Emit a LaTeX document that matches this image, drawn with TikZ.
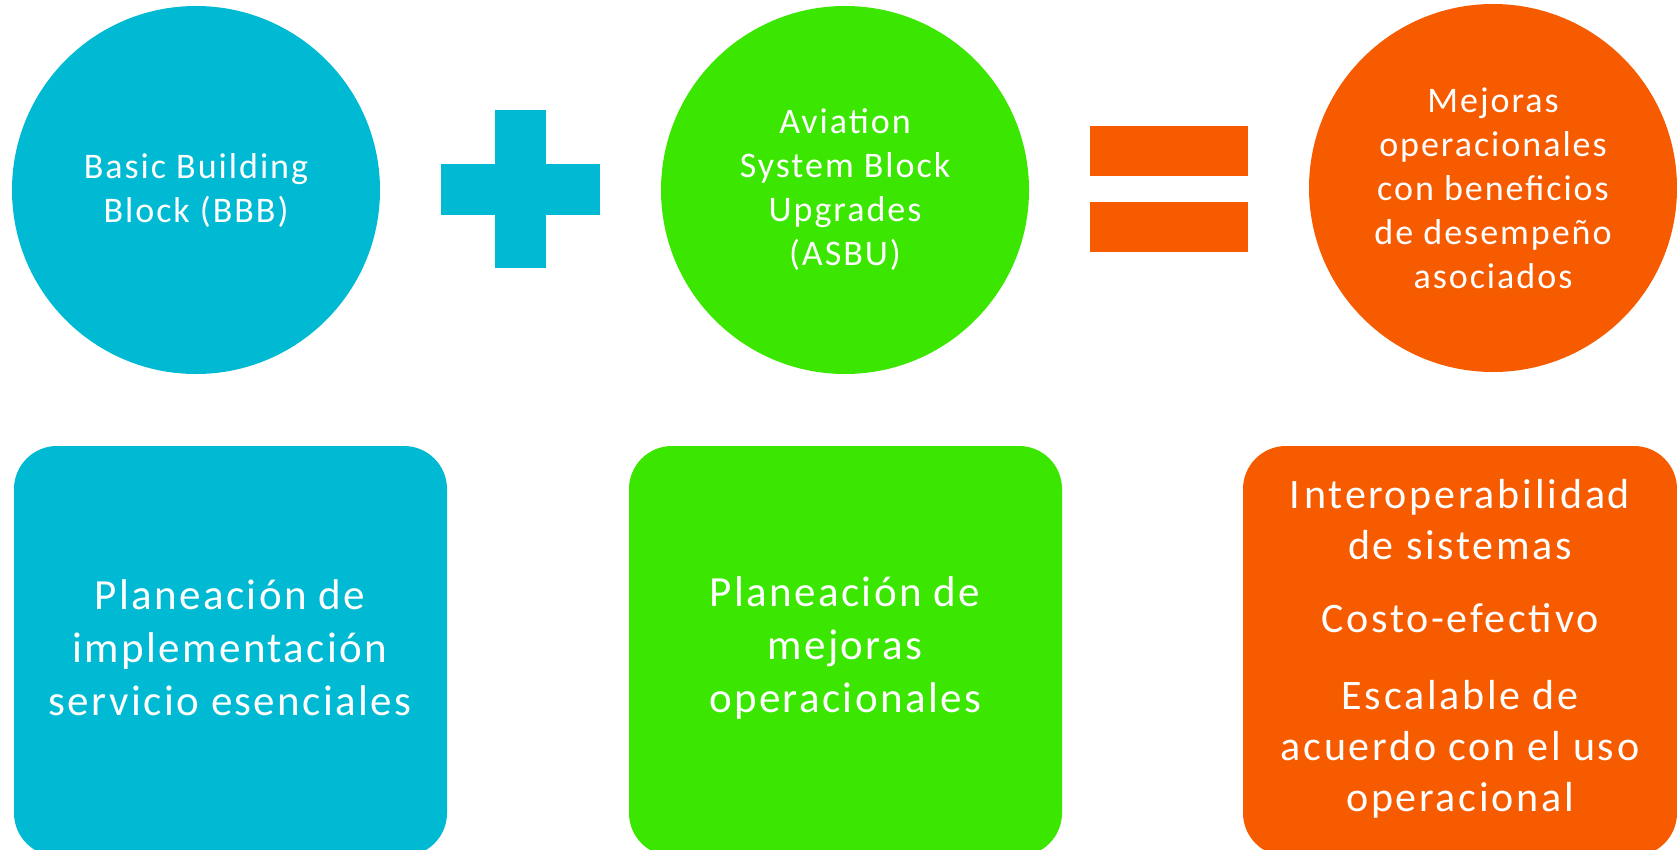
\documentclass[tikz,border=0pt]{standalone}
\usepackage{fontspec}
\setmainfont{Carlito}[LetterSpace=5.5]
\newfontfamily\widefont{Carlito}[LetterSpace=6.5]
\definecolor{cblue}{RGB}{0,185,211}
\definecolor{cgreen}{RGB}{59,230,0}
\definecolor{corange}{RGB}{247,91,0}
\begin{document}
\begin{tikzpicture}[x=1pt,y=-1pt,
  bigcircle/.style={circle,minimum size=368pt,inner sep=0pt,text=white,align=center,
    font=\fontsize{36}{44}\selectfont},
  bigbox/.style={rounded corners=43pt,text=white,align=center},
  signbar/.style={draw=none}]
\useasboundingbox (0,0) rectangle (1677,849);
% circles
\node[bigcircle,fill=cblue] (bbb) at (196,190) {Basic Building\\Block (BBB)};
\node[bigcircle,fill=cgreen] (asbu) at (845,190) {Aviation\\System Block\\Upgrades\\(ASBU)};
\node[bigcircle,fill=corange] (mej) at (1493,188) {Mejoras\\operacionales\\con beneficios\\de desempeño\\asociados};
% plus sign
\fill[cblue,signbar] (495,110) rectangle (546,268);
\fill[cblue,signbar] (441,164) rectangle (600,215);
% equals sign
\fill[corange,signbar] (1090,126) rectangle (1248,176);
\fill[corange,signbar] (1090,202) rectangle (1248,252);
% boxes
\fill[cblue,rounded corners=43pt] (14,446) rectangle (447,856);
\fill[cgreen,rounded corners=43pt] (629,446) rectangle (1062,856);
\fill[corange,rounded corners=43pt] (1243,446) rectangle (1677,856);
\node[bigbox,font=\fontsize{43}{53}\selectfont] (plan1) at (230,648)
  {Planeación de\\implementación\\servicio esenciales};
\node[bigbox,font=\fontsize{43}{53}\selectfont] (plan2) at (845,648)
  {Planeación de\\mejoras\\operacionales};
\node[bigbox,font=\widefont\fontsize{42}{51}\selectfont] (ben) at (1460,649)
  {I\kern4pt nte\kern2pt roperab\kern3pt i\kern3pt l\kern3pt i\kern3pt dad\\de sistemas\\[22pt]Costo-efectivo\\[26pt]Escalable de\\acuerdo con el uso\\operacional};
\end{tikzpicture}
\end{document}
